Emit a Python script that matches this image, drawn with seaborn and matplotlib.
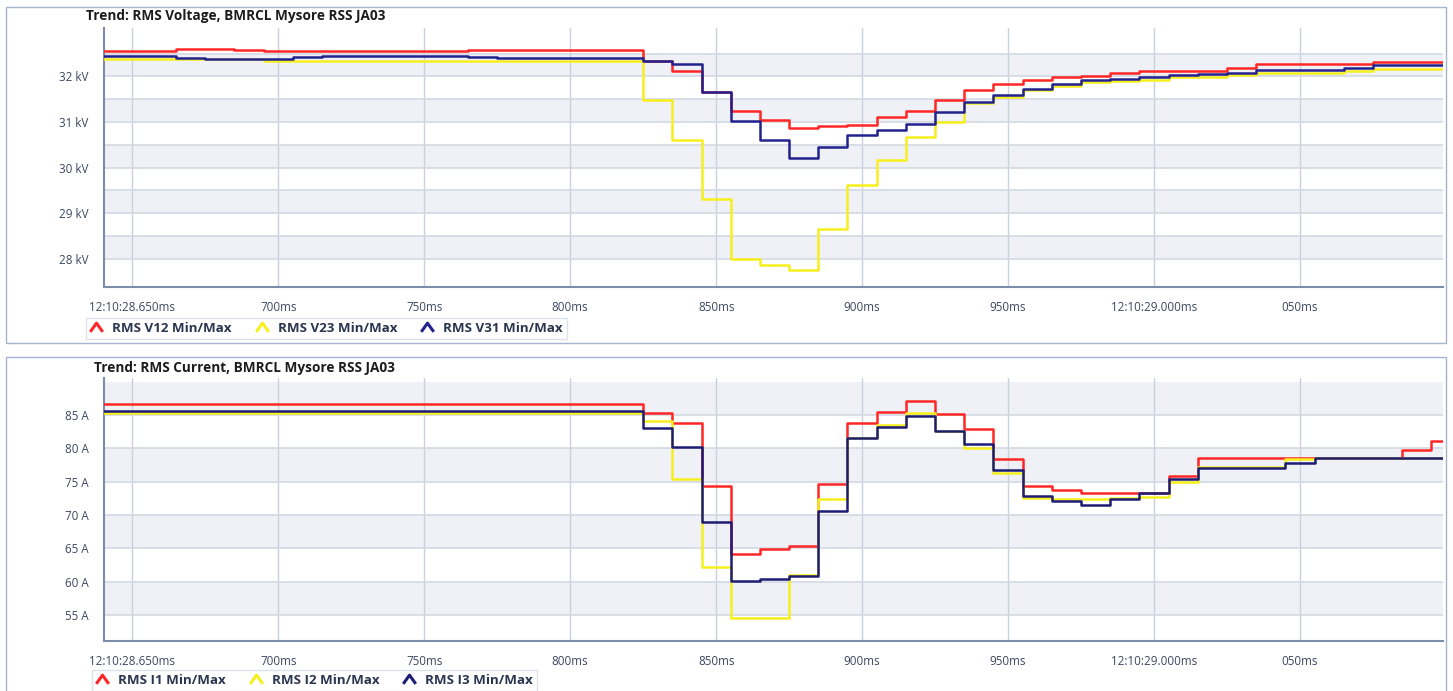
import matplotlib
matplotlib.use("Agg")
import matplotlib.pyplot as plt
from matplotlib.lines import Line2D
from matplotlib.patches import Rectangle
from matplotlib.path import Path
import pandas as pd
import seaborn as sns

# Start of each half-cycle RMS interval, in ms after 12:10:28
time_ms = list(range(635, 1106, 10))

# Line-to-line RMS voltage, kV
v12 = [32.56, 32.56, 32.56, 32.59, 32.61, 32.57, 32.56, 32.56, 32.56, 32.56,
       32.56, 32.56, 32.56, 32.58, 32.58, 32.58, 32.58, 32.58, 32.58,
       32.34, 32.12, 31.65, 31.23, 31.04, 30.87, 30.90, 30.94, 31.10, 31.25,
       31.49, 31.69, 31.83, 31.91, 31.98, 32.01, 32.07, 32.11, 32.11, 32.12,
       32.18, 32.26, 32.26, 32.26, 32.27, 32.31, 32.31, 32.31, 32.31]
v23 = [32.37, 32.37, 32.37, 32.37, 32.37, 32.37, 32.34, 32.34, 32.34, 32.34,
       32.34, 32.34, 32.34, 32.34, 32.34, 32.34, 32.34, 32.34, 32.34,
       31.49, 30.61, 29.30, 28.00, 27.87, 27.76, 28.66, 29.61, 30.17, 30.66,
       31.00, 31.42, 31.55, 31.71, 31.79, 31.87, 31.90, 31.93, 31.98, 31.99,
       32.04, 32.07, 32.07, 32.07, 32.12, 32.15, 32.15, 32.15, 32.15]
v31 = [32.45, 32.45, 32.45, 32.41, 32.39, 32.39, 32.39, 32.42, 32.45, 32.45,
       32.45, 32.45, 32.45, 32.43, 32.41, 32.41, 32.41, 32.41, 32.41,
       32.34, 32.27, 31.65, 31.01, 30.61, 30.22, 30.45, 30.71, 30.82, 30.95,
       31.22, 31.44, 31.58, 31.73, 31.83, 31.91, 31.94, 31.98, 32.02, 32.05,
       32.07, 32.13, 32.13, 32.13, 32.18, 32.25, 32.25, 32.25, 32.25]

# Phase RMS current, A
i1 = [86.65] * 19 + [
      85.25, 83.85, 74.40, 64.15, 64.85, 65.40, 74.65, 83.75, 85.50, 87.15,
      85.15, 82.85, 78.40, 74.30, 73.80, 73.30, 73.30, 73.30, 75.90, 78.60,
      78.60, 78.60, 78.60, 78.60, 78.60, 78.60, 79.80, 81.05, 81.05]
i2 = [85.30] * 19 + [
      84.15, 75.35, 62.25, 54.60, 54.60, 60.95, 72.40, 81.50, 83.50, 85.30,
      82.65, 80.00, 76.30, 72.50, 72.40, 72.40, 72.50, 72.70, 74.90, 77.25,
      77.25, 77.25, 78.45, 78.60, 78.60, 78.60, 78.60, 78.60, 78.60]
i3 = [85.60] * 19 + [
      83.00, 80.25, 68.90, 60.10, 60.40, 60.90, 70.65, 81.50, 83.20, 84.90,
      82.60, 80.60, 76.70, 72.85, 72.05, 71.55, 72.45, 73.30, 75.40, 77.10,
      77.10, 77.10, 77.85, 78.60, 78.60, 78.60, 78.60, 78.60, 78.60]

x_ticks = [650, 700, 750, 800, 850, 900, 950, 1000, 1050]
x_tick_labels = ["12:10:28.650ms", "700ms", "750ms", "800ms", "850ms",
                 "900ms", "950ms", "12:10:29.000ms", "050ms"]

v_ticks = [28.0, 28.5, 29.0, 29.5, 30.0, 30.5, 31.0, 31.5, 32.0, 32.5]
v_tick_labels = ["28 kV", "", "29 kV", "", "30 kV", "", "31 kV", "", "32 kV", ""]

i_ticks = [55, 60, 65, 70, 75, 80, 85]
i_tick_labels = ["55 A", "60 A", "65 A", "70 A", "75 A", "80 A", "85 A"]

v_names = ["RMS V12 Min/Max", "RMS V23 Min/Max", "RMS V31 Min/Max"]
i_names = ["RMS I1 Min/Max", "RMS I2 Min/Max", "RMS I3 Min/Max"]

RED, YELLOW, NAVY = "#ff2626", "#f6ef1c", "#22228f"

sns.set_theme(style="white")
plt.rcParams["font.family"] = ["Open Sans", "DejaVu Sans"]

W, H = 1453, 691
fig = plt.figure(figsize=(W / 100, H / 100), dpi=100)

SPINE = "#7d8cab"
LABEL = "#3c4760"


def long_frame(names, series):
    parts = [pd.DataFrame({"t": time_ms, "value": s, "series": n})
             for n, s in zip(names, series)]
    return pd.concat(parts, ignore_index=True)


def caret():
    return Path([(-1.0, -0.7), (0.0, 0.7), (1.0, -0.7)],
                [Path.MOVETO, Path.LINETO, Path.LINETO])


def panel(rect_px, frame_px, title, title_px, names, series, colors,
          ylim, yticks, ylabels, legend_px):
    left, top, right, bottom = rect_px
    ax = fig.add_axes([left / W, 1 - bottom / H, (right - left) / W,
                       (bottom - top) / H])

    # panel frame
    fx0, fy0, fx1, fy1 = frame_px
    fig.add_artist(Rectangle((fx0 / W, 1 - fy1 / H), (fx1 - fx0) / W,
                             (fy1 - fy0) / H, transform=fig.transFigure,
                             fill=False, edgecolor="#a3b5d1", lw=1.0))

    # alternating horizontal bands
    step = yticks[1] - yticks[0]
    for y0 in yticks[::2]:
        ax.axhspan(y0, y0 + step, color="#eff1f6", lw=0, zorder=0)

    df = long_frame(names, series)
    sns.lineplot(data=df, x="t", y="value", hue="series",
                 palette=dict(zip(names, colors)), hue_order=names,
                 estimator=None, drawstyle="steps-post", lw=1.8,
                 legend=False, ax=ax, zorder=3)

    ax.set_xlim(640.3, 1099)
    ax.set_ylim(*ylim)
    ax.set_xticks(x_ticks)
    ax.set_xticklabels(x_tick_labels)
    ax.set_yticks(yticks)
    ax.set_yticklabels(ylabels)
    ax.set_xlabel("")
    ax.set_ylabel("")
    ax.set_facecolor("white")
    ax.grid(axis="y", color="#d3d9e3", lw=1.2, zorder=1)
    ax.grid(axis="x", color="#c9d1dd", lw=1.0, zorder=1)
    ax.set_axisbelow(True)
    for s in ("top", "right"):
        ax.spines[s].set_visible(False)
    for s in ("left", "bottom"):
        ax.spines[s].set_color(SPINE)
        ax.spines[s].set_linewidth(1.5)
    ax.tick_params(direction="out", length=5, width=1, color=SPINE,
                   labelcolor=LABEL, labelsize=8.4, pad=5)
    ax.tick_params(axis="y", pad=6)

    fig.text(title_px[0] / W, 1 - title_px[1] / H, title, ha="left",
             va="center", fontsize=9.8, fontweight="bold", color="#1c1c1c")

    handles = [Line2D([], [], ls="none", marker=caret(), markersize=9,
                      markeredgewidth=2.2, markerfacecolor="none",
                      markeredgecolor=c) for c in colors]
    leg = fig.legend(handles, names, loc="upper left", ncol=3,
                     bbox_to_anchor=(legend_px[0] / W, 1 - legend_px[1] / H),
                     bbox_transform=fig.transFigure, frameon=True,
                     fancybox=False, edgecolor="#d4dbe5", fontsize=9.6,
                     handlelength=0.9, handletextpad=0.75, columnspacing=1.8,
                     borderpad=0.3, borderaxespad=0)
    leg.get_frame().set_linewidth(1.0)
    for txt in leg.get_texts():
        txt.set_color("#2a3550")
        txt.set_fontweight("bold")
    return ax


panel((104, 28, 1443, 287), (6, 7, 1446, 343),
      "Trend: RMS Voltage, BMRCL Mysore RSS JA03", (86, 16),
      v_names, [v12, v23, v31], [RED, YELLOW, NAVY],
      (27.38, 33.06), v_ticks, v_tick_labels, (86, 318))

panel((104, 378, 1443, 641), (6, 357, 1446, 700),
      "Trend: RMS Current, BMRCL Mysore RSS JA03", (94, 368),
      i_names, [i1, i2, i3], [RED, YELLOW, "#1c1c74"],
      (51.1, 90.55), i_ticks, i_tick_labels, (92, 670))

fig.savefig("out.png", dpi=100, facecolor="white")
